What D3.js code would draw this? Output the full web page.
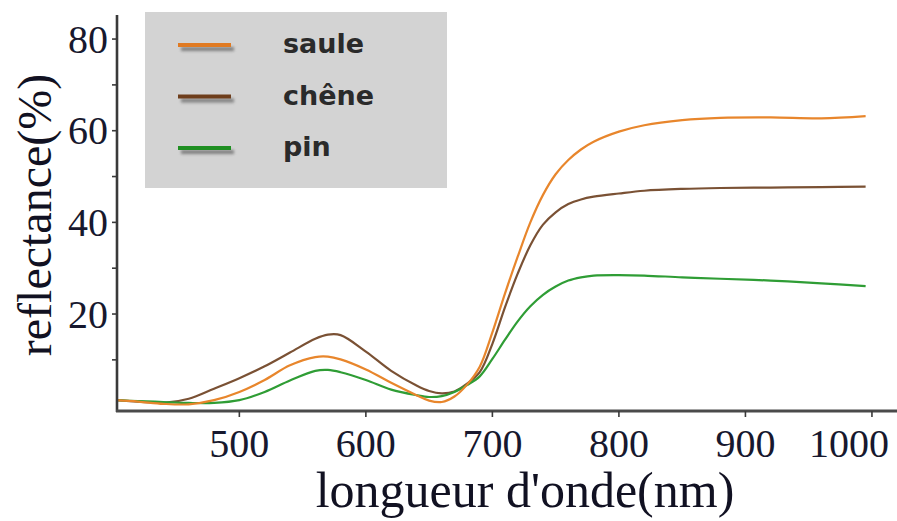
<!DOCTYPE html>
<html>
<head>
<meta charset="utf-8">
<script src="https://cdn.jsdelivr.net/npm/d3@7"></script>
<style>
  html, body { margin: 0; padding: 0; background: #ffffff; }
  svg { display: block; }
</style>
</head>
<body>
<svg id="chart" width="897" height="521"></svg>
<script>
// Spectral reflectance of three tree species (willow, oak, pine)
const wavelengths = [403, 420, 440, 460, 480, 500, 520, 540, 560, 570, 580, 600, 620, 640, 650, 660, 670, 680, 690,
                     700, 710, 720, 730, 740, 750, 760, 770, 780, 800, 820, 850, 880, 920, 960, 995];

const saule = [1.2, 0.9, 0.4, 0.3, 1.2, 3.0, 5.6, 8.8, 10.6, 10.7, 10.1, 7.9, 5.0, 2.3, 1.1, 0.8, 2.0, 4.6, 8.5,
               16.0, 24.5, 32.5, 40.0, 46.0, 50.5, 53.6, 55.9, 57.6, 59.8, 61.2, 62.3, 62.8, 62.9, 62.7, 63.2];

const chene = [1.2, 0.9, 0.6, 1.5, 3.7, 6.0, 8.6, 11.6, 14.6, 15.5, 15.4, 11.8, 7.6, 4.4, 3.2, 2.7, 3.1, 4.8, 7.3,
               13.5, 21.5, 28.8, 35.0, 39.5, 42.2, 44.0, 45.0, 45.6, 46.3, 46.9, 47.3, 47.5, 47.6, 47.7, 47.8];

const pin = [1.2, 1.0, 0.8, 0.6, 0.6, 1.2, 3.0, 5.5, 7.6, 7.8, 7.3, 5.6, 3.5, 2.3, 1.9, 2.1, 3.0, 4.5, 6.4,
             10.2, 14.4, 18.4, 21.7, 24.2, 26.0, 27.3, 28.0, 28.4, 28.5, 28.4, 28.0, 27.7, 27.3, 26.7, 26.1];

const seriesNames = ["saule", "chêne", "pin"];
const xTicks = [500, 600, 700, 800, 900, 1000];
const yTicks = [20, 40, 60, 80];
const yMinorTicks = [10, 30, 50, 70];

const colors = { "saule": "#e8862c", "chêne": "#7a5134", "pin": "#2f9d35" };
const legendColors = { "saule": "#e07a22", "chêne": "#6e3e1c", "pin": "#1f8f22" };

const series = [
  { name: "chêne", values: chene },
  { name: "pin", values: pin },
  { name: "saule", values: saule }
];

const svg = d3.select("#chart");
const W = 897, H = 521;

const x = d3.scaleLinear().domain([403.3, 1019.8]).range([117, 897]);
const y = d3.scaleLinear().domain([-1.16, 85.25]).range([411, 15]);

// soft blur for the shadow under the legend swatches
const defs = svg.append("defs");
defs.append("filter").attr("id", "soft")
  .attr("filterUnits", "userSpaceOnUse")
  .attr("x", 150).attr("y", -20).attr("width", 120).attr("height", 40)
  .append("feGaussianBlur").attr("stdDeviation", 1.6);

// Curves
const line = d3.line()
  .x((d, i) => x(wavelengths[i]))
  .y(d => y(d))
  .curve(d3.curveCatmullRom.alpha(0.5));

svg.append("g").selectAll("path")
  .data(series)
  .join("path")
  .attr("d", d => line(d.values))
  .attr("fill", "none")
  .attr("stroke", d => colors[d.name])
  .attr("stroke-width", 2.2)
  .attr("stroke-linejoin", "round");

// Y axis
const yAxis = svg.append("g").attr("transform", "translate(117,0)");
yAxis.append("line")
  .attr("x1", 0).attr("x2", 0).attr("y1", 15).attr("y2", 412)
  .attr("stroke", "#3a3a3a").attr("stroke-width", 2.6);
yAxis.selectAll("line.tick")
  .data(yTicks.concat(yMinorTicks))
  .join("line").attr("class", "tick")
  .attr("x1", -5).attr("x2", 0)
  .attr("y1", d => y(d)).attr("y2", d => y(d))
  .attr("stroke", "#3a3a3a").attr("stroke-width", 1.6);
yAxis.selectAll("text")
  .data(yTicks)
  .join("text")
  .attr("x", -9).attr("y", d => y(d))
  .attr("dy", "0.34em")
  .attr("text-anchor", "end")
  .attr("font-family", "'Liberation Serif', 'Times New Roman', serif")
  .attr("font-size", 40)
  .attr("fill", "#17182e")
  .text(d => d);

// X axis
const xAxis = svg.append("g").attr("transform", "translate(0,411)");
xAxis.append("line")
  .attr("x1", 116).attr("x2", W).attr("y1", 0).attr("y2", 0)
  .attr("stroke", "#4a4a4a").attr("stroke-width", 3);
xAxis.selectAll("line.tick")
  .data(xTicks)
  .join("line").attr("class", "tick")
  .attr("x1", d => x(d)).attr("x2", d => x(d))
  .attr("y1", 0).attr("y2", 6)
  .attr("stroke", "#3a3a3a").attr("stroke-width", 1.6);
const xLabels = xAxis.selectAll("text")
  .data(xTicks)
  .join("text")
  .attr("x", d => x(d)).attr("y", 46)
  .attr("text-anchor", "middle")
  .attr("font-family", "'Liberation Serif', 'Times New Roman', serif")
  .attr("font-size", 40)
  .attr("fill", "#17182e")
  .text(d => d);
// keep the last tick label inside the drawing
xLabels.each(function () {
  const b = this.getBBox();
  const over = b.x + b.width - (W - 8);
  if (over > 0) d3.select(this).attr("x", +d3.select(this).attr("x") - over);
});

// Axis titles
svg.append("text")
  .attr("x", 525).attr("y", 507)
  .attr("text-anchor", "middle")
  .attr("font-family", "'Liberation Serif', 'Times New Roman', serif")
  .attr("font-size", 50)
  .attr("fill", "#111122")
  .text("longueur d'onde(nm)");

svg.append("text")
  .attr("transform", "translate(51,215) rotate(-90)")
  .attr("text-anchor", "middle")
  .attr("font-family", "'Liberation Serif', 'Times New Roman', serif")
  .attr("font-size", 48)
  .attr("fill", "#111122")
  .text("reflectance(%)");

// Legend
const legend = svg.append("g");
legend.append("rect")
  .attr("x", 145).attr("y", 12).attr("width", 302).attr("height", 176)
  .attr("fill", "#d3d3d3");
const items = legend.selectAll("g.item")
  .data(seriesNames)
  .join("g").attr("class", "item")
  .attr("transform", (d, i) => `translate(0,${45 + i * 51.5})`);
items.append("rect")
  .attr("x", 181).attr("y", 2).attr("width", 53).attr("height", 4)
  .attr("fill", "#6a6a6a")
  .attr("opacity", 0.8)
  .attr("filter", "url(#soft)");
items.append("rect")
  .attr("x", 178).attr("y", -2).attr("width", 53).attr("height", 4)
  .attr("fill", d => legendColors[d]);
items.append("text")
  .attr("x", 283).attr("y", 8)
  .attr("font-family", "'DejaVu Sans', Verdana, sans-serif")
  .attr("font-size", 27)
  .attr("font-weight", 600)
  .attr("fill", "#2a2a2a")
  .text(d => d);
</script>
</body>
</html>
